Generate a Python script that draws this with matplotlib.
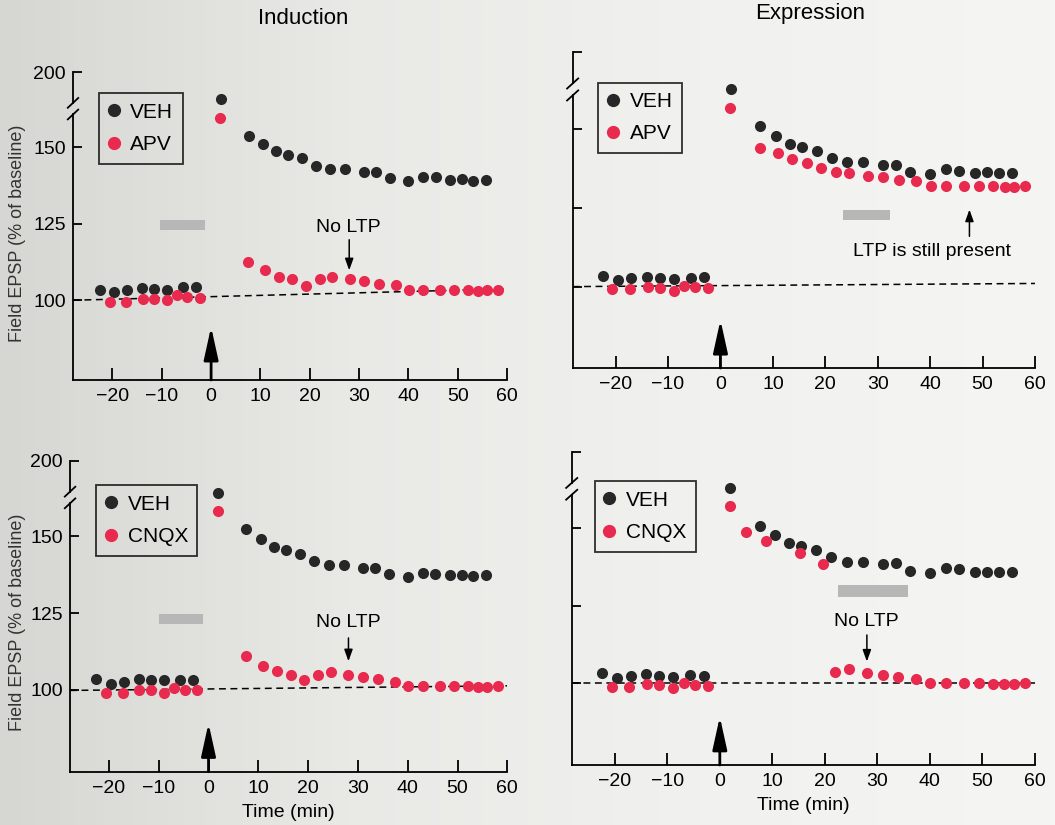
import numpy as np
import matplotlib.pyplot as plt
from matplotlib.lines import Line2D
from matplotlib.patches import Rectangle
from matplotlib.colors import LinearSegmentedColormap
from matplotlib.transforms import blended_transform_factory

plt.rcParams['font.family'] = ['Liberation Sans', 'DejaVu Sans']

# time points (min)
t_base_veh = [-22.5, -19.6, -17.0, -14.0, -11.5, -8.9, -5.7, -3.1]
t_base_drug = [-20.6, -17.2, -13.9, -11.5, -8.9, -6.9, -4.8, -2.3]
t_post_veh = [2.0, 7.6, 10.5, 13.2, 15.5, 18.4, 21.2, 24.2, 27.2, 31.0, 33.5,
              36.2, 40.0, 43.0, 45.5, 48.5, 50.8, 53.1, 55.7]
t_post_drug = [1.9, 7.5, 10.9, 13.7, 16.5, 19.2, 22.0, 24.6, 28.1, 31.0, 34.0,
               37.4, 40.1, 43.0, 46.5, 49.3, 52.0, 54.2, 56.0, 58.1]
t_cnqx_expr_early = [1.9, 5.0, 8.8, 15.3, 19.6]

# Induction, APV
ind_apv_veh_base = [103.5, 102.7, 103.3, 104.0, 103.8, 103.5, 104.3, 104.3]
ind_apv_drug_base = [99.5, 99.5, 100.5, 100.5, 100.0, 101.6, 101.1, 100.9]
ind_apv_veh_post = [165.8, 153.8, 151.1, 148.7, 147.5, 146.5, 144.0, 142.9, 142.9, 142.1,
                    142.1, 140.0, 138.9, 140.5, 140.2, 139.5, 139.7, 139.1, 139.5]
ind_apv_drug_post = [159.8, 112.5, 109.8, 107.6, 106.8, 104.7, 107.1, 107.6, 107.1, 106.3,
                     105.2, 104.9, 103.5, 103.5, 103.5, 103.5, 103.3, 103.0, 103.3, 103.3]

# Expression, APV
exp_apv_veh_base = [103.4, 102.1, 102.7, 103.2, 102.7, 102.3, 102.7, 102.9]
exp_apv_drug_base = [99.1, 99.1, 100.0, 99.5, 98.7, 100.2, 99.8, 99.5]
exp_apv_veh_post = [163.0, 151.1, 147.9, 145.2, 144.5, 143.1, 141.0, 139.6, 139.6, 138.8,
                    138.8, 136.5, 135.9, 137.4, 136.9, 136.2, 136.4, 136.2, 136.2]
exp_apv_drug_post = [156.9, 144.1, 142.6, 140.7, 139.4, 137.8, 136.5, 136.2, 135.3, 134.9,
                     133.8, 133.5, 132.1, 132.1, 132.1, 132.1, 131.9, 131.7, 131.7, 131.9]

# Induction, CNQX
ind_cnqx_veh_base = [103.5, 102.0, 102.7, 103.5, 103.1, 103.1, 103.3, 103.3]
ind_cnqx_drug_base = [98.9, 98.9, 100.0, 99.8, 98.9, 100.5, 100.0, 99.8]
ind_cnqx_veh_post = [164.1, 152.3, 149.2, 146.6, 145.5, 144.4, 141.9, 140.8, 140.8, 139.8,
                     139.8, 137.6, 136.8, 138.1, 137.9, 137.3, 137.4, 137.0, 137.3]
ind_cnqx_drug_post = [158.3, 110.9, 107.8, 106.0, 104.9, 103.3, 104.9, 105.7, 104.9, 104.1,
                      103.5, 102.7, 101.3, 101.3, 101.3, 101.3, 101.1, 100.9, 100.9, 101.1]

# Expression, CNQX
exp_cnqx_veh_base = [103.1, 101.7, 102.3, 102.8, 102.3, 102.0, 102.6, 102.3]
exp_cnqx_drug_base = [98.8, 98.8, 99.6, 99.4, 98.5, 99.9, 99.4, 99.1]
exp_cnqx_veh_post = [163.1, 150.8, 147.8, 145.2, 144.3, 143.0, 140.6, 139.2, 139.2, 138.5,
                     138.7, 136.3, 135.5, 137.1, 136.7, 135.8, 136.0, 135.7, 135.8]
exp_cnqx_drug_early = [157.2, 148.9, 146.0, 141.9, 138.5]
exp_cnqx_drug_late = [103.4, 104.4, 103.1, 102.6, 101.8, 101.2, 99.9, 99.9, 99.9, 99.9,
                      99.7, 99.7, 99.7, 99.9]

x_ticks = [-20, -10, 0, 10, 20, 30, 40, 50, 60]
y_ticks = [100, 125, 150, 174.7]
y_tick_labels = ['100', '125', '150', '200']

BLACK = '#272727'
RED = '#e82a4e'
BAR = '#b7b7b7'
MS = 64

fig = plt.figure(figsize=(10.55, 8.25), dpi=100)
fig.patch.set_facecolor('#efefed')

# page shading (darker on the left, like the photographed page)
bg = fig.add_axes([0, 0, 1, 1], zorder=-10)
bg.axis('off')
shade = LinearSegmentedColormap.from_list('page', ['#d6d6d3', '#e9e9e6', '#f1f1ef', '#f5f5f3'])
bg.imshow(np.linspace(0, 1, 256)[None, :], cmap=shade, aspect='auto', extent=[0, 1, 0, 1])


def draw_panel(rect, ylim, xleft, drug, veh_pts, drug_pts, bar, dash, note, note_xy,
               note_arrow, arrow_tip, leg_xy, show_labels, xlabel):
    ax = fig.add_axes(rect)
    ax.set_facecolor('none')
    ax.set_xlim(xleft, 60)
    ax.set_ylim(*ylim)
    for s in ['top', 'right', 'left']:
        ax.spines[s].set_visible(False)
    ax.spines['bottom'].set_linewidth(1.3)

    # left spine with axis break
    tr = blended_transform_factory(ax.transAxes, ax.transData)
    ax.plot([0, 0], [ylim[0], 160.8], color='black', lw=1.3, transform=tr, clip_on=False)
    ax.plot([0, 0], [164.6, ylim[1]], color='black', lw=1.3, transform=tr, clip_on=False)
    for yb in (160.8, 164.6):
        ax.plot([-0.012, 0.012], [yb - 1.6, yb + 1.6], color='black', lw=1.3,
                transform=tr, clip_on=False)

    ax.set_xticks(x_ticks)
    ax.set_yticks(y_ticks)
    ax.tick_params(axis='x', direction='in', length=9, width=1.3, labelsize=14, pad=6)
    ax.tick_params(axis='y', direction='in', length=6.5, width=1.3, labelsize=14, pad=5)
    if show_labels:
        ax.set_yticklabels(y_tick_labels)
    else:
        ax.set_yticklabels([])

    # baseline dashed line
    ax.plot([xleft, 60], dash, ls=(0, (4.5, 3)), color='black', lw=1.1, zorder=1)

    # drug application bar
    ax.add_patch(Rectangle((bar[0], bar[2]), bar[1] - bar[0], bar[3] - bar[2],
                           color=BAR, lw=0, zorder=1))

    for t, v in veh_pts:
        ax.scatter(t, v, s=MS, color=BLACK, lw=0, zorder=3)
    for t, v in drug_pts:
        ax.scatter(t, v, s=MS, color=RED, lw=0, zorder=4)

    # tetanus arrow
    ax.annotate('', xy=(0, arrow_tip), xytext=(0, ylim[0]),
                arrowprops=dict(arrowstyle='-|>,head_length=1.0,head_width=0.22',
                                color='black', lw=2, mutation_scale=20,
                                shrinkA=0, shrinkB=0))

    ax.text(note_xy[0], note_xy[1], note, fontsize=14, ha='center', va='center')
    ax.annotate('', xy=(note_arrow[0], note_arrow[2]), xytext=(note_arrow[0], note_arrow[1]),
                arrowprops=dict(arrowstyle='-|>,head_length=0.5,head_width=0.18',
                                color='black', lw=1.1, mutation_scale=14,
                                shrinkA=0, shrinkB=0))

    handles = [Line2D([], [], ls='none', marker='o', ms=8.5, color=BLACK, label='VEH'),
               Line2D([], [], ls='none', marker='o', ms=8.5, color=RED, label=drug)]
    leg = ax.legend(handles=handles, loc='upper left', bbox_to_anchor=leg_xy,
                    bbox_transform=ax.transData, borderaxespad=0, fontsize=15,
                    frameon=True, fancybox=False, handlelength=0.5, handletextpad=0.55,
                    borderpad=0.45, labelspacing=0.65)
    leg.get_frame().set_edgecolor('black')
    leg.get_frame().set_linewidth(1.3)
    leg.get_frame().set_facecolor('none')

    if xlabel:
        ax.set_xlabel('Time (min)', fontsize=14, labelpad=5)
    return ax


draw_panel([0.0692, 0.5394, 0.4114, 0.3733], (73.9, 174.7), -28, 'APV',
           list(zip(t_base_veh, ind_apv_veh_base)) + list(zip(t_post_veh, ind_apv_veh_post)),
           list(zip(t_base_drug, ind_apv_drug_base)) + list(zip(t_post_drug, ind_apv_drug_post)),
           (-10.4, -1.3, 123.0, 126.3), (100.0, 103.7), 'No LTP', (27.8, 123.9),
           (28.0, 119.8, 109.8), 91.3, (-22.7, 167.7), True, False)

draw_panel([0.5428, 0.5539, 0.4382, 0.3834], (74.1, 174.7), -28.2, 'APV',
           list(zip(t_base_veh, exp_apv_veh_base)) + list(zip(t_post_veh, exp_apv_veh_post)),
           list(zip(t_base_drug, exp_apv_drug_base)) + list(zip(t_post_drug, exp_apv_drug_post)),
           (23.3, 32.3, 121.3, 124.5), (100.0, 101.0), 'LTP is still present', (40.3, 111.2),
           (47.5, 116.0, 124.5), 89.4, (-23.3, 164.9), False, False)

draw_panel([0.0664, 0.0646, 0.4145, 0.3770], (73.3, 174.7), -27.8, 'CNQX',
           list(zip(t_base_veh, ind_cnqx_veh_base)) + list(zip(t_post_veh, ind_cnqx_veh_post)),
           list(zip(t_base_drug, ind_cnqx_drug_base)) + list(zip(t_post_drug, ind_cnqx_drug_post)),
           (-10.0, -1.1, 121.6, 124.8), (99.8, 101.3), 'No LTP', (28.1, 121.8),
           (28.1, 116.9, 109.3), 89.1, (-22.5, 166.7), True, True)

draw_panel([0.5419, 0.0727, 0.4391, 0.3798], (73.5, 174.7), -28.2, 'CNQX',
           list(zip(t_base_veh, exp_cnqx_veh_base)) + list(zip(t_post_veh, exp_cnqx_veh_post)),
           list(zip(t_base_drug, exp_cnqx_drug_base)) + list(zip(t_cnqx_expr_early, exp_cnqx_drug_early))
           + list(zip(t_post_drug[6:], exp_cnqx_drug_late)),
           (22.5, 35.8, 127.9, 131.7), (100.0, 100.0), 'No LTP', (27.9, 119.8),
           (28.0, 115.5, 106.9), 89.1, (-23.8, 165.1), False, True)

fig.text(303 / 1055, 1 - 19 / 825, 'Induction', fontsize=16, ha='center', va='center')
fig.text(810 / 1055, 1 - 14 / 825, 'Expression', fontsize=16, ha='center', va='center')
for yc in (233, 622):
    fig.text(18 / 1055, 1 - yc / 825, 'Field EPSP (% of baseline)', fontsize=13,
             rotation=90, ha='center', va='center', color='#333333')

fig.savefig('out.png', dpi=100, facecolor=fig.get_facecolor())
